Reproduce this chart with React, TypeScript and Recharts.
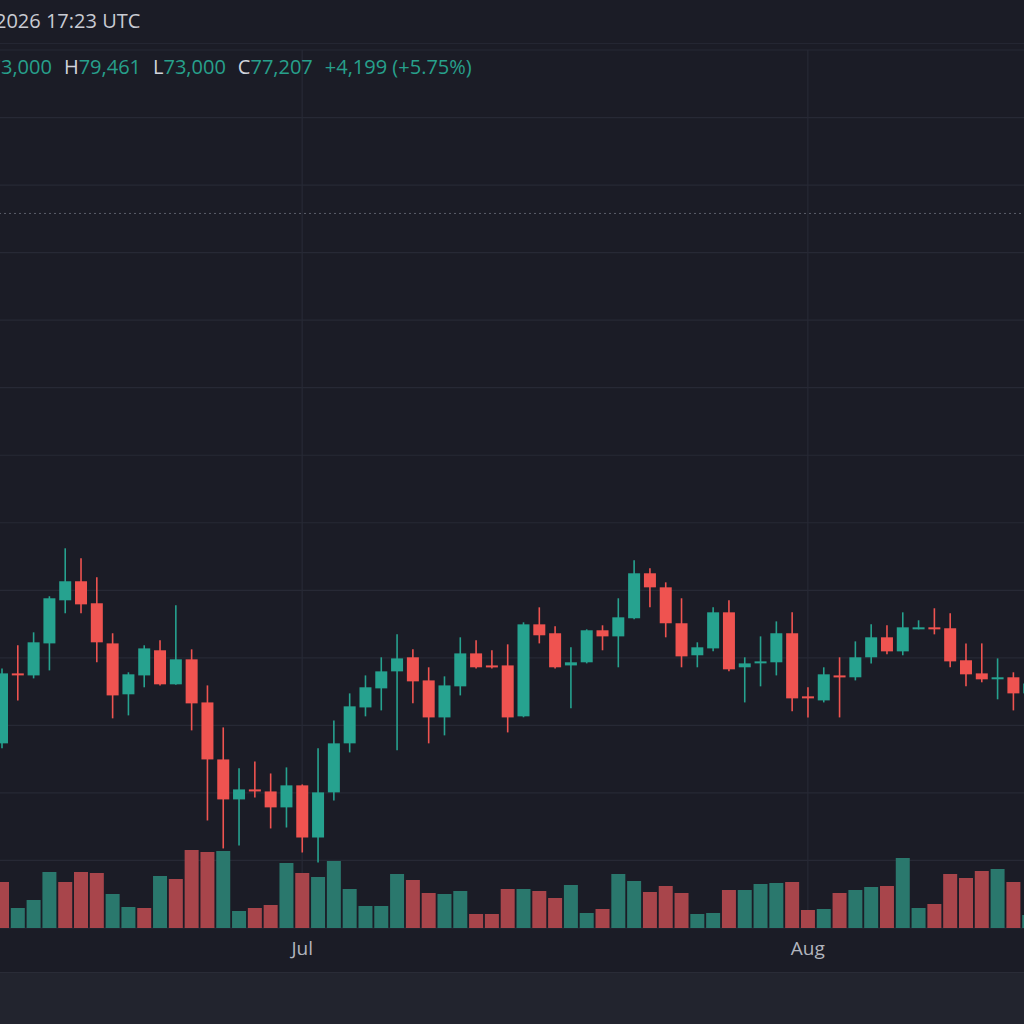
import React from 'react';
import {
  ComposedChart,
  Bar,
  XAxis,
  YAxis,
  CartesianGrid,
  ReferenceLine,
  Cell,
} from 'recharts';

// daily candles (first one is cut by the left edge)
const opens = [
  68670, 73850, 73700, 76070, 79260, 80670, 79040, 76070, 72300, 73700, 75560, 73040, 74890, 71700, 67480, 64520,
  65260, 65110, 63930, 65560, 61700, 65040, 68670, 71330, 72740, 74000, 75040, 73330, 70590, 72890, 75330, 74440,
  74440, 70670, 77480, 76820, 74440, 74670, 77040, 76590, 77930, 81260, 80220, 77560, 75190, 75700, 78370, 74300,
  74670, 74670, 76820, 72150, 71850, 73700, 73560, 75040, 76520, 75480, 77190, 77260, 77190, 74820, 73850, 73480,
  73560, 72370,
];
const highs = [
  74220, 75930, 76890, 79560, 83110, 82370, 80960, 76820, 73930, 75930, 76300, 78890, 75630, 72960, 69850, 66820,
  67330, 66440, 66890, 65630, 68300, 70370, 72370, 73700, 75040, 76740, 75630, 74300, 73630, 76520, 76300, 75560,
  76000, 77630, 78740, 77330, 75780, 77110, 77410, 79410, 82220, 81630, 80590, 79410, 76150, 78740, 79260, 75040,
  76590, 77700, 78370, 72820, 74300, 75040, 76220, 77480, 77410, 78370, 77780, 78670, 78300, 76070, 76070, 74960,
  73930, 73600,
];
const lows = [
  68300, 71850, 73480, 74070, 78300, 78300, 74670, 70520, 70740, 72820, 72960, 73000, 69630, 62960, 60890, 61110,
  64670, 62370, 62440, 60590, 59850, 64440, 68000, 70670, 71110, 68150, 71630, 68670, 69260, 72220, 74220, 74220,
  69480, 70600, 76070, 74220, 71260, 74590, 75560, 74300, 77850, 78740, 76520, 74300, 74300, 75480, 74000, 71700,
  72890, 73700, 71040, 70590, 71700, 70590, 73330, 74590, 75260, 75190, 77110, 76740, 74300, 72890, 73190, 71930,
  71110, 72000,
];
const closes = [
  73850, 73780, 76150, 79410, 80670, 78960, 76150, 72220, 73780, 75700, 73040, 74890, 71630, 67480, 64520, 65260,
  65110, 63930, 65560, 61700, 65040, 68670, 71410, 72820, 74000, 74960, 73260, 70590, 72960, 75330, 74300, 74370,
  70590, 77480, 76670, 74300, 74670, 77040, 76590, 78000, 81260, 80220, 77560, 75110, 75780, 78370, 74150, 74590,
  74740, 76820, 72000, 72000, 73780, 73630, 75040, 76520, 75480, 77260, 77260, 77110, 74740, 73780, 73410, 73560,
  72370, 73100,
];
const volumes = [
  69000, 30000, 42000, 84000, 69000, 84000, 82500, 51000, 31500, 30000, 78000, 73500, 117000, 114000, 115500, 25500,
  30000, 34500, 97500, 82500, 76500, 100500, 58500, 33000, 33000, 81000, 72000, 52500, 51000, 55500, 21000, 21000,
  58500, 58500, 55500, 45000, 64500, 22500, 28500, 81000, 70500, 54000, 63000, 52500, 21000, 22500, 57000, 57000,
  66000, 67500, 69000, 27000, 28500, 52500, 57000, 61500, 63000, 105000, 30000, 36000, 81000, 75000, 85500, 88500,
  69000, 19500,
];
// volume bar direction as coloured in the picture
const volumeUp = [
  false, true, true, true, false, false, false, true, true, false, true, false, false, false, true, true,
  false, false, true, false, true, true, true, true, true, true, false, false, true, true, false, false,
  false, true, false, false, true, true, false, true, true, false, false, false, true, true, false, true,
  true, true, false, false, true, false, true, true, false, true, true, false, false, false, false, true,
  false, true,
];

const monthTicks = [19, 51];
const monthLabels = ['Jul', 'Aug'];
const priceTicks = [60000, 65000, 70000, 75000, 80000, 85000, 90000, 95000, 100000, 105000, 110000, 115000, 120000];
const priceLine = 107900;

const UP = '#26a28f';
const DOWN = '#ef5350';
const VOL_UP = '#2a786d';
const VOL_DOWN = '#a8454b';
const BG = '#1b1c26';

const data = opens.map((open, i) => ({
  i,
  open,
  high: highs[i],
  low: lows[i],
  close: closes[i],
  range: [lows[i], highs[i]],
  volume: volumes[i],
  volUp: volumeUp[i],
}));

const Candle = (props: any) => {
  const { x, y, width, height, payload } = props;
  if (!payload || height == null) return null;
  const { open, close, high, low } = payload;
  const color = close >= open ? UP : DOWN;
  const ratio = height / (high - low || 1);
  const bodyTop = y + (high - Math.max(open, close)) * ratio;
  const bodyH = Math.max(Math.abs(open - close) * ratio, 2);
  const cx = x + width / 2;
  return (
    <g>
      <line x1={cx} x2={cx} y1={y} y2={y + height} stroke={color} strokeWidth={1.6} />
      <rect x={x} y={bodyTop} width={width} height={bodyH} fill={color} />
    </g>
  );
};

const App = () => {
  return (
    <div
      style={{
        position: 'absolute',
        left: 0,
        top: 0,
        width: 1024,
        height: 1024,
        overflow: 'hidden',
        background: BG,
        fontFamily: '"Open Sans", "Noto Sans", sans-serif',
      }}
    >
      {/* header */}
      <div style={{ position: 'absolute', left: -5, top: 7, fontSize: 20, color: '#c9cbd3', whiteSpace: 'nowrap' }}>
        2026 17:23 UTC
      </div>
      <div style={{ position: 'absolute', left: 0, top: 43, width: 1024, height: 1, background: '#242632' }} />
      <div
        style={{
          position: 'absolute',
          left: -26,
          top: 53,
          fontSize: 20,
          color: '#27a08c',
          whiteSpace: 'nowrap',
          display: 'flex',
          gap: 12,
          zIndex: 2,
        }}
      >
        <span><span style={{ color: '#d1d4dc' }}>O</span>73,000</span>
        <span><span style={{ color: '#d1d4dc' }}>H</span>79,461</span>
        <span><span style={{ color: '#d1d4dc' }}>L</span>73,000</span>
        <span><span style={{ color: '#d1d4dc' }}>C</span>77,207</span>
        <span>+4,199 (+5.75%)</span>
      </div>

      <div style={{ position: 'absolute', left: -6, top: 0 }}>
        <ComposedChart
          width={1043}
          height={972}
          data={data}
          margin={{ top: 50, right: 0, bottom: 0, left: 0 }}
          barCategoryGap={0}
        >
          <CartesianGrid xAxisId="c" yAxisId="price" stroke="#272935" strokeWidth={1.2} />
          <XAxis
            xAxisId="c"
            dataKey="i"
            ticks={monthTicks}
            interval={0}
            tickFormatter={(v) => monthLabels[monthTicks.indexOf(v)] ?? ''}
            axisLine={false}
            tickLine={false}
            tickSize={0}
            tickMargin={14}
            height={44}
            tick={{ fill: '#b2b5be', fontSize: 19 }}
          />
          <XAxis xAxisId="v" dataKey="i" hide />
          <YAxis yAxisId="price" domain={[55000, 120000]} ticks={priceTicks} hide />
          <YAxis yAxisId="vol" domain={[0, 1317000]} hide />
          <ReferenceLine
            xAxisId="c"
            yAxisId="price"
            y={priceLine}
            stroke="#5c5f6b"
            strokeDasharray="2 3"
          />
          <Bar xAxisId="v" yAxisId="vol" dataKey="volume" barSize={14} isAnimationActive={false}>
            {data.map((d) => (
              <Cell key={d.i} fill={d.volUp ? VOL_UP : VOL_DOWN} />
            ))}
          </Bar>
          <Bar
            xAxisId="c"
            yAxisId="price"
            dataKey="range"
            barSize={12}
            shape={<Candle />}
            isAnimationActive={false}
          />
        </ComposedChart>
      </div>

      {/* bottom panel */}
      <div style={{ position: 'absolute', left: 0, top: 972, width: 1024, height: 52, background: '#22242e', borderTop: '1px solid #2a2c37' }} />
    </div>
  );
};

export default App;
